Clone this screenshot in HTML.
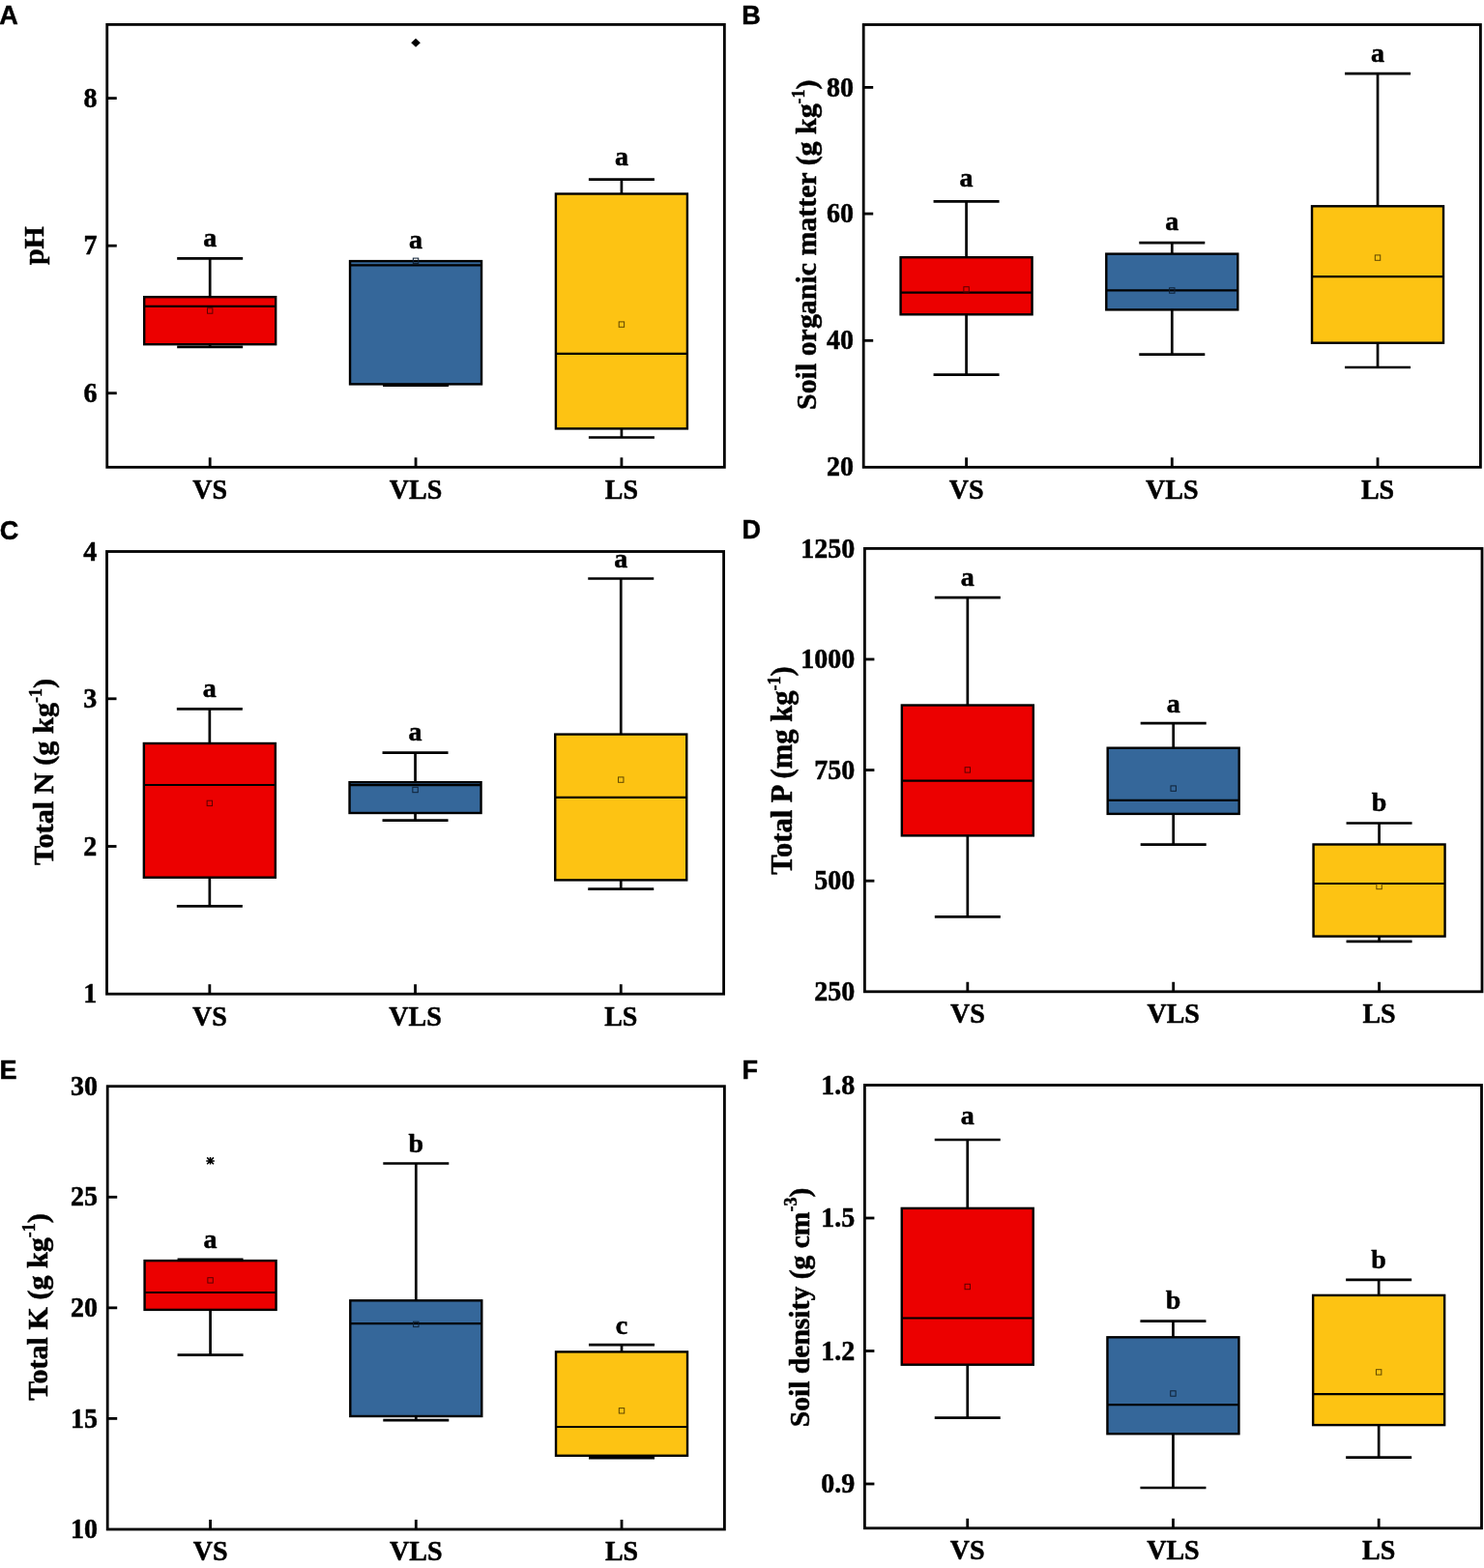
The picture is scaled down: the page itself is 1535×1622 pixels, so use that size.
<!DOCTYPE html>
<html><head><meta charset="utf-8"><title>Soil properties box plots</title>
<style>
html,body{margin:0;padding:0;background:#fff;}
body{width:1535px;height:1622px;overflow:hidden;}
svg{display:block;}
.fr{fill:none;stroke:#000;stroke-width:2.8;}
.tk{stroke:#000;stroke-width:2.8;}
.wh{stroke:#000;stroke-width:2.7;}
.bx{stroke:#000;stroke-width:2.4;}
.md{stroke:#000;stroke-width:2.2;}
text{font-family:"Liberation Serif","Times New Roman",serif;font-weight:bold;fill:#000;stroke:#000;stroke-width:0.5px;stroke-linejoin:round;}
.tl{font-size:28px;text-anchor:end;}
.xl{font-size:28px;text-anchor:middle;}
.let{font-size:28px;text-anchor:middle;}
.yl{font-size:30px;text-anchor:middle;}
.sup{font-size:18px;}
.pl{font-family:"Liberation Sans",Arial,sans-serif;font-size:28.5px;}
</style></head>
<body>
<svg width="1535" height="1622" viewBox="0 0 1535 1622">
<rect width="1535" height="1622" fill="#fff"/>
<line x1="217.18" y1="267.3" x2="217.18" y2="307.2" class="wh"/>
<line x1="217.18" y1="356.2" x2="217.18" y2="358.8" class="wh"/>
<line x1="183.18" y1="267.3" x2="251.18" y2="267.3" class="wh"/>
<line x1="183.18" y1="358.8" x2="251.18" y2="358.8" class="wh"/>
<rect x="149.18" y="307.2" width="136" height="49" fill="#ec0000" class="bx"/>
<line x1="149.18" y1="316.9" x2="285.18" y2="316.9" class="md"/>
<rect x="214.48" y="318.8" width="5.4" height="5.4" fill="none" stroke="#5a0000" stroke-width="1"/>
<text transform="translate(217.18 255) scale(1 1)" class="let">a</text>
<line x1="430.05" y1="270.1" x2="430.05" y2="270.1" class="wh"/>
<line x1="430.05" y1="397.4" x2="430.05" y2="398.6" class="wh"/>
<line x1="396.05" y1="398.6" x2="464.05" y2="398.6" class="wh"/>
<rect x="362.05" y="270.1" width="136" height="127.3" fill="#35679a" class="bx"/>
<line x1="362.05" y1="274.3" x2="498.05" y2="274.3" class="md"/>
<rect x="427.35" y="267.1" width="5.4" height="5.4" fill="none" stroke="#0e2136" stroke-width="1"/>
<text transform="translate(430.05 256.7) scale(1 1)" class="let">a</text>
<path d="M430.05 39.7L434.85 44.2L430.05 48.7L425.25 44.2Z" fill="#000"/>
<line x1="642.92" y1="185.7" x2="642.92" y2="200.5" class="wh"/>
<line x1="642.92" y1="443.4" x2="642.92" y2="452.5" class="wh"/>
<line x1="608.92" y1="185.7" x2="676.92" y2="185.7" class="wh"/>
<line x1="608.92" y1="452.5" x2="676.92" y2="452.5" class="wh"/>
<rect x="574.92" y="200.5" width="136" height="242.9" fill="#fdc313" class="bx"/>
<line x1="574.92" y1="365.8" x2="710.92" y2="365.8" class="md"/>
<rect x="640.22" y="332.9" width="5.4" height="5.4" fill="none" stroke="#5e4600" stroke-width="1"/>
<text transform="translate(642.92 170.6) scale(1 1)" class="let">a</text>
<rect x="110.75" y="25.4" width="638.6" height="457.9" class="fr"/>
<line x1="110.75" y1="101.6" x2="120.75" y2="101.6" class="tk"/>
<text transform="translate(100.55 110.7) scale(1 1.08)" class="tl">8</text>
<line x1="110.75" y1="254.2" x2="120.75" y2="254.2" class="tk"/>
<text transform="translate(100.55 263.3) scale(1 1.08)" class="tl">7</text>
<line x1="110.75" y1="406.7" x2="120.75" y2="406.7" class="tk"/>
<text transform="translate(100.55 415.8) scale(1 1.08)" class="tl">6</text>
<line x1="217.18" y1="483.3" x2="217.18" y2="473.3" class="tk"/>
<text transform="translate(217.18 515.6) scale(1 1.08)" class="xl">VS</text>
<line x1="430.05" y1="483.3" x2="430.05" y2="473.3" class="tk"/>
<text transform="translate(430.05 515.6) scale(1 1.08)" class="xl">VLS</text>
<line x1="642.92" y1="483.3" x2="642.92" y2="473.3" class="tk"/>
<text transform="translate(642.92 515.6) scale(1 1.08)" class="xl">LS</text>
<text transform="translate(45 254.1) rotate(-90)" class="yl" style="font-size:30px"><tspan>pH</tspan></text>
<text transform="translate(-0.8 24.8) scale(0.95 1.0)" class="pl">A</text>
<line x1="999.57" y1="208.3" x2="999.57" y2="266.2" class="wh"/>
<line x1="999.57" y1="325.3" x2="999.57" y2="387.7" class="wh"/>
<line x1="965.57" y1="208.3" x2="1033.57" y2="208.3" class="wh"/>
<line x1="965.57" y1="387.7" x2="1033.57" y2="387.7" class="wh"/>
<rect x="931.57" y="266.2" width="136" height="59.1" fill="#ec0000" class="bx"/>
<line x1="931.57" y1="302.6" x2="1067.57" y2="302.6" class="md"/>
<rect x="996.87" y="296.7" width="5.4" height="5.4" fill="none" stroke="#5a0000" stroke-width="1"/>
<text transform="translate(999.57 193.1) scale(1 1)" class="let">a</text>
<line x1="1212.3" y1="251.1" x2="1212.3" y2="262.6" class="wh"/>
<line x1="1212.3" y1="320.4" x2="1212.3" y2="366.6" class="wh"/>
<line x1="1178.3" y1="251.1" x2="1246.3" y2="251.1" class="wh"/>
<line x1="1178.3" y1="366.6" x2="1246.3" y2="366.6" class="wh"/>
<rect x="1144.3" y="262.6" width="136" height="57.8" fill="#35679a" class="bx"/>
<line x1="1144.3" y1="300.4" x2="1280.3" y2="300.4" class="md"/>
<rect x="1209.6" y="297.8" width="5.4" height="5.4" fill="none" stroke="#0e2136" stroke-width="1"/>
<text transform="translate(1212.3 238.2) scale(1 1)" class="let">a</text>
<line x1="1425.03" y1="76.2" x2="1425.03" y2="213.3" class="wh"/>
<line x1="1425.03" y1="354.7" x2="1425.03" y2="380" class="wh"/>
<line x1="1391.03" y1="76.2" x2="1459.03" y2="76.2" class="wh"/>
<line x1="1391.03" y1="380" x2="1459.03" y2="380" class="wh"/>
<rect x="1357.03" y="213.3" width="136" height="141.4" fill="#fdc313" class="bx"/>
<line x1="1357.03" y1="286.1" x2="1493.03" y2="286.1" class="md"/>
<rect x="1422.33" y="263.9" width="5.4" height="5.4" fill="none" stroke="#5e4600" stroke-width="1"/>
<text transform="translate(1425.03 64.3) scale(1 1)" class="let">a</text>
<rect x="893.2" y="25.5" width="638.2" height="457.8" class="fr"/>
<line x1="893.2" y1="90.4" x2="903.2" y2="90.4" class="tk"/>
<text transform="translate(883 99.5) scale(1 1.08)" class="tl">80</text>
<line x1="893.2" y1="221.1" x2="903.2" y2="221.1" class="tk"/>
<text transform="translate(883 230.2) scale(1 1.08)" class="tl">60</text>
<line x1="893.2" y1="352.3" x2="903.2" y2="352.3" class="tk"/>
<text transform="translate(883 361.4) scale(1 1.08)" class="tl">40</text>
<text transform="translate(883 492.4) scale(1 1.08)" class="tl">20</text>
<line x1="999.57" y1="483.3" x2="999.57" y2="473.3" class="tk"/>
<text transform="translate(999.57 515.6) scale(1 1.08)" class="xl">VS</text>
<line x1="1212.3" y1="483.3" x2="1212.3" y2="473.3" class="tk"/>
<text transform="translate(1212.3 515.6) scale(1 1.08)" class="xl">VLS</text>
<line x1="1425.03" y1="483.3" x2="1425.03" y2="473.3" class="tk"/>
<text transform="translate(1425.03 515.6) scale(1 1.08)" class="xl">LS</text>
<text transform="translate(844.4 253.2) rotate(-90)" class="yl" style="font-size:29.9px"><tspan>Soil organic matter (g kg</tspan><tspan class="sup" dy="-12.5">-1</tspan><tspan dy="12.5">)</tspan></text>
<text transform="translate(767.2 24.8) scale(0.95 1.0)" class="pl">B</text>
<line x1="216.85" y1="733.4" x2="216.85" y2="769" class="wh"/>
<line x1="216.85" y1="907.7" x2="216.85" y2="937.3" class="wh"/>
<line x1="182.85" y1="733.4" x2="250.85" y2="733.4" class="wh"/>
<line x1="182.85" y1="937.3" x2="250.85" y2="937.3" class="wh"/>
<rect x="148.85" y="769" width="136" height="138.7" fill="#ec0000" class="bx"/>
<line x1="148.85" y1="812" x2="284.85" y2="812" class="md"/>
<rect x="214.15" y="828.2" width="5.4" height="5.4" fill="none" stroke="#5a0000" stroke-width="1"/>
<text transform="translate(216.85 720.9) scale(1 1)" class="let">a</text>
<line x1="429.55" y1="778.6" x2="429.55" y2="809.2" class="wh"/>
<line x1="429.55" y1="841" x2="429.55" y2="848.7" class="wh"/>
<line x1="395.55" y1="778.6" x2="463.55" y2="778.6" class="wh"/>
<line x1="395.55" y1="848.7" x2="463.55" y2="848.7" class="wh"/>
<rect x="361.55" y="809.2" width="136" height="31.8" fill="#35679a" class="bx"/>
<line x1="361.55" y1="812.1" x2="497.55" y2="812.1" class="md"/>
<rect x="426.85" y="814.3" width="5.4" height="5.4" fill="none" stroke="#0e2136" stroke-width="1"/>
<text transform="translate(429.55 765.8) scale(1 1)" class="let">a</text>
<line x1="642.25" y1="598.5" x2="642.25" y2="759.6" class="wh"/>
<line x1="642.25" y1="910.4" x2="642.25" y2="919.7" class="wh"/>
<line x1="608.25" y1="598.5" x2="676.25" y2="598.5" class="wh"/>
<line x1="608.25" y1="919.7" x2="676.25" y2="919.7" class="wh"/>
<rect x="574.25" y="759.6" width="136" height="150.8" fill="#fdc313" class="bx"/>
<line x1="574.25" y1="824.9" x2="710.25" y2="824.9" class="md"/>
<rect x="639.55" y="803.9" width="5.4" height="5.4" fill="none" stroke="#5e4600" stroke-width="1"/>
<text transform="translate(642.25 586.6) scale(1 1)" class="let">a</text>
<rect x="110.5" y="570.5" width="638.1" height="457.7" class="fr"/>
<text transform="translate(100.3 579.6) scale(1 1.08)" class="tl">4</text>
<line x1="110.5" y1="722.8" x2="120.5" y2="722.8" class="tk"/>
<text transform="translate(100.3 731.9) scale(1 1.08)" class="tl">3</text>
<line x1="110.5" y1="875.5" x2="120.5" y2="875.5" class="tk"/>
<text transform="translate(100.3 884.6) scale(1 1.08)" class="tl">2</text>
<text transform="translate(100.3 1037.3) scale(1 1.08)" class="tl">1</text>
<line x1="216.85" y1="1028.2" x2="216.85" y2="1018.2" class="tk"/>
<text transform="translate(216.85 1060.5) scale(1 1.08)" class="xl">VS</text>
<line x1="429.55" y1="1028.2" x2="429.55" y2="1018.2" class="tk"/>
<text transform="translate(429.55 1060.5) scale(1 1.08)" class="xl">VLS</text>
<line x1="642.25" y1="1028.2" x2="642.25" y2="1018.2" class="tk"/>
<text transform="translate(642.25 1060.5) scale(1 1.08)" class="xl">LS</text>
<text transform="translate(55.4 798.4) rotate(-90)" class="yl" style="font-size:30.3px"><tspan>Total N (g kg</tspan><tspan class="sup" dy="-12.5">-1</tspan><tspan dy="12.5">)</tspan></text>
<text transform="translate(-0.3 557.6) scale(0.95 1.0)" class="pl">C</text>
<line x1="1000.83" y1="618.1" x2="1000.83" y2="729.5" class="wh"/>
<line x1="1000.83" y1="864.4" x2="1000.83" y2="948.4" class="wh"/>
<line x1="966.83" y1="618.1" x2="1034.83" y2="618.1" class="wh"/>
<line x1="966.83" y1="948.4" x2="1034.83" y2="948.4" class="wh"/>
<rect x="932.83" y="729.5" width="136" height="134.9" fill="#ec0000" class="bx"/>
<line x1="932.83" y1="807.7" x2="1068.83" y2="807.7" class="md"/>
<rect x="998.13" y="793.7" width="5.4" height="5.4" fill="none" stroke="#5a0000" stroke-width="1"/>
<text transform="translate(1000.83 606.3) scale(1 1)" class="let">a</text>
<line x1="1213.7" y1="748.2" x2="1213.7" y2="773.7" class="wh"/>
<line x1="1213.7" y1="841.9" x2="1213.7" y2="873.7" class="wh"/>
<line x1="1179.7" y1="748.2" x2="1247.7" y2="748.2" class="wh"/>
<line x1="1179.7" y1="873.7" x2="1247.7" y2="873.7" class="wh"/>
<rect x="1145.7" y="773.7" width="136" height="68.2" fill="#35679a" class="bx"/>
<line x1="1145.7" y1="827.8" x2="1281.7" y2="827.8" class="md"/>
<rect x="1211" y="812.9" width="5.4" height="5.4" fill="none" stroke="#0e2136" stroke-width="1"/>
<text transform="translate(1213.7 736.7) scale(1 1)" class="let">a</text>
<line x1="1426.57" y1="851.5" x2="1426.57" y2="873.5" class="wh"/>
<line x1="1426.57" y1="968.6" x2="1426.57" y2="973.8" class="wh"/>
<line x1="1392.57" y1="851.5" x2="1460.57" y2="851.5" class="wh"/>
<line x1="1392.57" y1="973.8" x2="1460.57" y2="973.8" class="wh"/>
<rect x="1358.57" y="873.5" width="136" height="95.1" fill="#fdc313" class="bx"/>
<line x1="1358.57" y1="914" x2="1494.57" y2="914" class="md"/>
<rect x="1423.87" y="914.3" width="5.4" height="5.4" fill="none" stroke="#5e4600" stroke-width="1"/>
<text transform="translate(1426.57 839.4) scale(1 0.94)" class="let">b</text>
<rect x="894.4" y="567.4" width="638.6" height="458.4" class="fr"/>
<text transform="translate(884.2 576.5) scale(1 1.08)" class="tl">1250</text>
<line x1="894.4" y1="682" x2="904.4" y2="682" class="tk"/>
<text transform="translate(884.2 691.1) scale(1 1.08)" class="tl">1000</text>
<line x1="894.4" y1="796.6" x2="904.4" y2="796.6" class="tk"/>
<text transform="translate(884.2 805.7) scale(1 1.08)" class="tl">750</text>
<line x1="894.4" y1="911.2" x2="904.4" y2="911.2" class="tk"/>
<text transform="translate(884.2 920.3) scale(1 1.08)" class="tl">500</text>
<text transform="translate(884.2 1034.9) scale(1 1.08)" class="tl">250</text>
<line x1="1000.83" y1="1025.8" x2="1000.83" y2="1015.8" class="tk"/>
<text transform="translate(1000.83 1058.1) scale(1 1.08)" class="xl">VS</text>
<line x1="1213.7" y1="1025.8" x2="1213.7" y2="1015.8" class="tk"/>
<text transform="translate(1213.7 1058.1) scale(1 1.08)" class="xl">VLS</text>
<line x1="1426.57" y1="1025.8" x2="1426.57" y2="1015.8" class="tk"/>
<text transform="translate(1426.57 1058.1) scale(1 1.08)" class="xl">LS</text>
<text transform="translate(819 797) rotate(-90)" class="yl" style="font-size:30.6px"><tspan>Total P (mg kg</tspan><tspan class="sup" dy="-12.5">-1</tspan><tspan dy="12.5">)</tspan></text>
<text transform="translate(767.4 557.1) scale(0.95 1.0)" class="pl">D</text>
<line x1="217.57" y1="1302.9" x2="217.57" y2="1304.1" class="wh"/>
<line x1="217.57" y1="1354.9" x2="217.57" y2="1401.7" class="wh"/>
<line x1="183.57" y1="1302.9" x2="251.57" y2="1302.9" class="wh"/>
<line x1="183.57" y1="1401.7" x2="251.57" y2="1401.7" class="wh"/>
<rect x="149.57" y="1304.1" width="136" height="50.8" fill="#ec0000" class="bx"/>
<line x1="149.57" y1="1337" x2="285.57" y2="1337" class="md"/>
<rect x="214.87" y="1321.7" width="5.4" height="5.4" fill="none" stroke="#5a0000" stroke-width="1"/>
<text transform="translate(217.57 1291.3) scale(1 1)" class="let">a</text>
<path d="M214.17 1197.4L220.97 1204.2M214.17 1204.2L220.97 1197.4M217.57 1197.1L217.57 1204.5M213.27 1201L221.87 1201" stroke="#000" stroke-width="1.5" fill="none"/>
<line x1="430.3" y1="1203.5" x2="430.3" y2="1345.3" class="wh"/>
<line x1="430.3" y1="1465" x2="430.3" y2="1469.1" class="wh"/>
<line x1="396.3" y1="1203.5" x2="464.3" y2="1203.5" class="wh"/>
<line x1="396.3" y1="1469.1" x2="464.3" y2="1469.1" class="wh"/>
<rect x="362.3" y="1345.3" width="136" height="119.7" fill="#35679a" class="bx"/>
<line x1="362.3" y1="1369.1" x2="498.3" y2="1369.1" class="md"/>
<rect x="427.6" y="1367.2" width="5.4" height="5.4" fill="none" stroke="#0e2136" stroke-width="1"/>
<text transform="translate(430.3 1191.5) scale(1 0.94)" class="let">b</text>
<line x1="643.03" y1="1391.1" x2="643.03" y2="1398.4" class="wh"/>
<line x1="643.03" y1="1505.8" x2="643.03" y2="1508.2" class="wh"/>
<line x1="609.03" y1="1391.1" x2="677.03" y2="1391.1" class="wh"/>
<line x1="609.03" y1="1508.2" x2="677.03" y2="1508.2" class="wh"/>
<rect x="575.03" y="1398.4" width="136" height="107.4" fill="#fdc313" class="bx"/>
<line x1="575.03" y1="1476" x2="711.03" y2="1476" class="md"/>
<rect x="640.33" y="1456.6" width="5.4" height="5.4" fill="none" stroke="#5e4600" stroke-width="1"/>
<text transform="translate(643.03 1379.7) scale(1 1)" class="let">c</text>
<rect x="111.2" y="1123.7" width="638.2" height="458.3" class="fr"/>
<text transform="translate(101 1132.8) scale(1 1.08)" class="tl">30</text>
<line x1="111.2" y1="1238.3" x2="121.2" y2="1238.3" class="tk"/>
<text transform="translate(101 1247.4) scale(1 1.08)" class="tl">25</text>
<line x1="111.2" y1="1352.85" x2="121.2" y2="1352.85" class="tk"/>
<text transform="translate(101 1361.95) scale(1 1.08)" class="tl">20</text>
<line x1="111.2" y1="1467.4" x2="121.2" y2="1467.4" class="tk"/>
<text transform="translate(101 1476.5) scale(1 1.08)" class="tl">15</text>
<text transform="translate(101 1591.1) scale(1 1.08)" class="tl">10</text>
<line x1="217.57" y1="1582" x2="217.57" y2="1572" class="tk"/>
<text transform="translate(217.57 1614.3) scale(1 1.08)" class="xl">VS</text>
<line x1="430.3" y1="1582" x2="430.3" y2="1572" class="tk"/>
<text transform="translate(430.3 1614.3) scale(1 1.08)" class="xl">VLS</text>
<line x1="643.03" y1="1582" x2="643.03" y2="1572" class="tk"/>
<text transform="translate(643.03 1614.3) scale(1 1.08)" class="xl">LS</text>
<text transform="translate(48.5 1352) rotate(-90)" class="yl" style="font-size:30.1px"><tspan>Total K (g kg</tspan><tspan class="sup" dy="-12.5">-1</tspan><tspan dy="12.5">)</tspan></text>
<text transform="translate(-0.5 1115.5) scale(0.95 1.0)" class="pl">E</text>
<line x1="1000.75" y1="1179" x2="1000.75" y2="1249.9" class="wh"/>
<line x1="1000.75" y1="1411.7" x2="1000.75" y2="1466.7" class="wh"/>
<line x1="966.75" y1="1179" x2="1034.75" y2="1179" class="wh"/>
<line x1="966.75" y1="1466.7" x2="1034.75" y2="1466.7" class="wh"/>
<rect x="932.75" y="1249.9" width="136" height="161.8" fill="#ec0000" class="bx"/>
<line x1="932.75" y1="1363.5" x2="1068.75" y2="1363.5" class="md"/>
<rect x="998.05" y="1328.3" width="5.4" height="5.4" fill="none" stroke="#5a0000" stroke-width="1"/>
<text transform="translate(1000.75 1163.2) scale(1 1)" class="let">a</text>
<line x1="1213.45" y1="1366.6" x2="1213.45" y2="1383.3" class="wh"/>
<line x1="1213.45" y1="1483.2" x2="1213.45" y2="1539" class="wh"/>
<line x1="1179.45" y1="1366.6" x2="1247.45" y2="1366.6" class="wh"/>
<line x1="1179.45" y1="1539" x2="1247.45" y2="1539" class="wh"/>
<rect x="1145.45" y="1383.3" width="136" height="99.9" fill="#35679a" class="bx"/>
<line x1="1145.45" y1="1453.1" x2="1281.45" y2="1453.1" class="md"/>
<rect x="1210.75" y="1438.8" width="5.4" height="5.4" fill="none" stroke="#0e2136" stroke-width="1"/>
<text transform="translate(1213.45 1354.1) scale(1 0.94)" class="let">b</text>
<line x1="1426.15" y1="1323.8" x2="1426.15" y2="1339.9" class="wh"/>
<line x1="1426.15" y1="1474.1" x2="1426.15" y2="1507.6" class="wh"/>
<line x1="1392.15" y1="1323.8" x2="1460.15" y2="1323.8" class="wh"/>
<line x1="1392.15" y1="1507.6" x2="1460.15" y2="1507.6" class="wh"/>
<rect x="1358.15" y="1339.9" width="136" height="134.2" fill="#fdc313" class="bx"/>
<line x1="1358.15" y1="1442.2" x2="1494.15" y2="1442.2" class="md"/>
<rect x="1423.45" y="1416.7" width="5.4" height="5.4" fill="none" stroke="#5e4600" stroke-width="1"/>
<text transform="translate(1426.15 1311.9) scale(1 0.94)" class="let">b</text>
<rect x="894.4" y="1122.5" width="638.1" height="458.3" class="fr"/>
<text transform="translate(884.2 1131.6) scale(1 1.08)" class="tl">1.8</text>
<line x1="894.4" y1="1260" x2="904.4" y2="1260" class="tk"/>
<text transform="translate(884.2 1269.1) scale(1 1.08)" class="tl">1.5</text>
<line x1="894.4" y1="1397.5" x2="904.4" y2="1397.5" class="tk"/>
<text transform="translate(884.2 1406.6) scale(1 1.08)" class="tl">1.2</text>
<line x1="894.4" y1="1535" x2="904.4" y2="1535" class="tk"/>
<text transform="translate(884.2 1544.1) scale(1 1.08)" class="tl">0.9</text>
<line x1="1000.75" y1="1580.8" x2="1000.75" y2="1570.8" class="tk"/>
<text transform="translate(1000.75 1613.1) scale(1 1.08)" class="xl">VS</text>
<line x1="1213.45" y1="1580.8" x2="1213.45" y2="1570.8" class="tk"/>
<text transform="translate(1213.45 1613.1) scale(1 1.08)" class="xl">VLS</text>
<line x1="1426.15" y1="1580.8" x2="1426.15" y2="1570.8" class="tk"/>
<text transform="translate(1426.15 1613.1) scale(1 1.08)" class="xl">LS</text>
<text transform="translate(836.8 1352.5) rotate(-90)" class="yl" style="font-size:29.6px"><tspan>Soil density (g cm</tspan><tspan class="sup" dy="-12.5">-3</tspan><tspan dy="12.5">)</tspan></text>
<text transform="translate(767.4 1115.5) scale(0.95 1.0)" class="pl">F</text>
</svg>
</body></html>
